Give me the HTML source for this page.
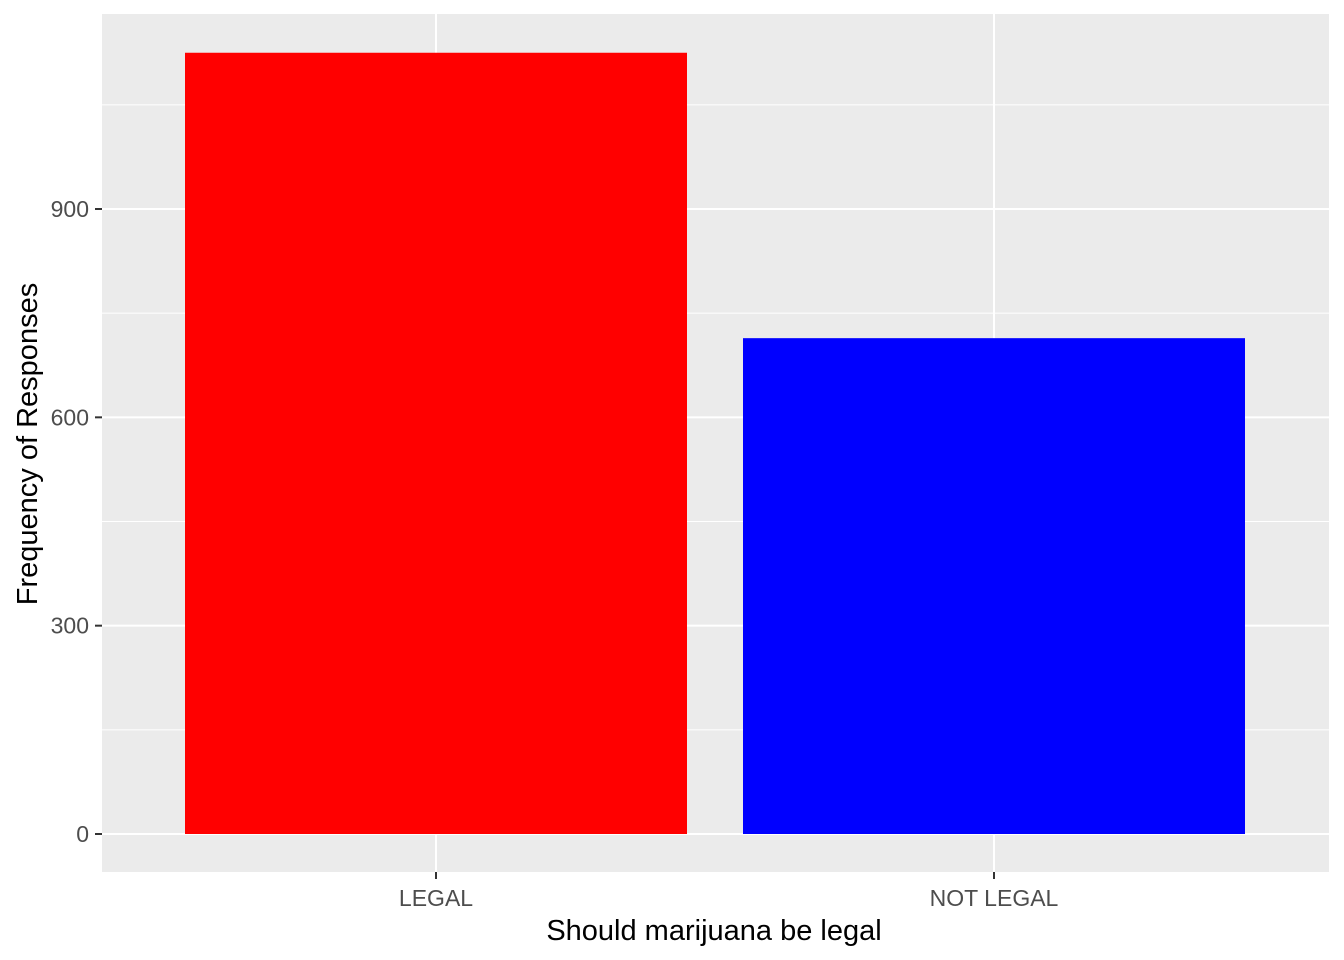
<!DOCTYPE html>
<html><head><meta charset="utf-8"><style>
html,body{margin:0;padding:0;background:#fff;}
svg{display:block;font-family:"Liberation Sans",Arial,sans-serif;}
</style></head><body>
<svg id="chart" width="1344" height="960">
<rect x="102" y="14" width="1227" height="858" fill="#EBEBEB"/>
<g id="grid"></g><g id="bars"></g><g id="axes"></g>
<text x="714" y="940" font-size="29" text-anchor="middle" fill="#000">Should marijuana be legal</text>
<text transform="translate(37,444) rotate(-90)" font-size="29" text-anchor="middle" fill="#000">Frequency of Responses</text>
</svg>
<script>
const categories = ["LEGAL", "NOT LEGAL"];
const values = [1125, 714];
const colors = ["#FF0000", "#0000FF"];
const yTicks = [0, 300, 600, 900];
const yMinorTicks = [150, 450, 750, 1050];

const NS = "http://www.w3.org/2000/svg";
const y = v => 834 - v * (625 / 900);
const xCenter = i => 436 + i * 558;
const bandW = 502;
function mk(tag, attrs, parent) {
  const e = document.createElementNS(NS, tag);
  for (const k in attrs) e.setAttribute(k, attrs[k]);
  parent.appendChild(e);
  return e;
}
const grid = document.getElementById("grid"), bars = document.getElementById("bars"), axes = document.getElementById("axes");
yMinorTicks.forEach(t => {
  const l = mk("line", {x1:102, x2:1329, y1:y(t), y2:y(t), stroke:"#fff", "stroke-width":1}, grid);
  
  
});
yTicks.forEach(t => {
  const l = mk("line", {x1:102, x2:1329, y1:y(t), y2:y(t), stroke:"#fff", "stroke-width":2}, grid);
  
  
  const tk = mk("line", {x1:95, x2:102, y1:y(t), y2:y(t), stroke:"#333", "stroke-width":2}, axes);
  
  
  const tx = mk("text", {x:89, y:y(t)+8, "font-size":23, "text-anchor":"end", fill:"#4D4D4D"}, axes);
  tx.textContent = t;
  
  
});
categories.forEach((c, i) => {
  const cx = xCenter(i);
  const g = mk("line", {x1:cx, x2:cx, y1:14, y2:872, stroke:"#fff", "stroke-width":2}, grid);
  
  
  const r = mk("rect", {x:cx - bandW/2, y:y(values[i]), width:bandW, height:y(0) - y(values[i]), fill:colors[i]}, bars);
  
  
  const tk = mk("line", {x1:cx, x2:cx, y1:872, y2:879, stroke:"#333", "stroke-width":2}, axes);
  
  
  const tx = mk("text", {x:cx, y:906, "font-size":23, "text-anchor":"middle", fill:"#4D4D4D"}, axes);
  tx.textContent = c;
  
  
});
</script>
</body></html>
